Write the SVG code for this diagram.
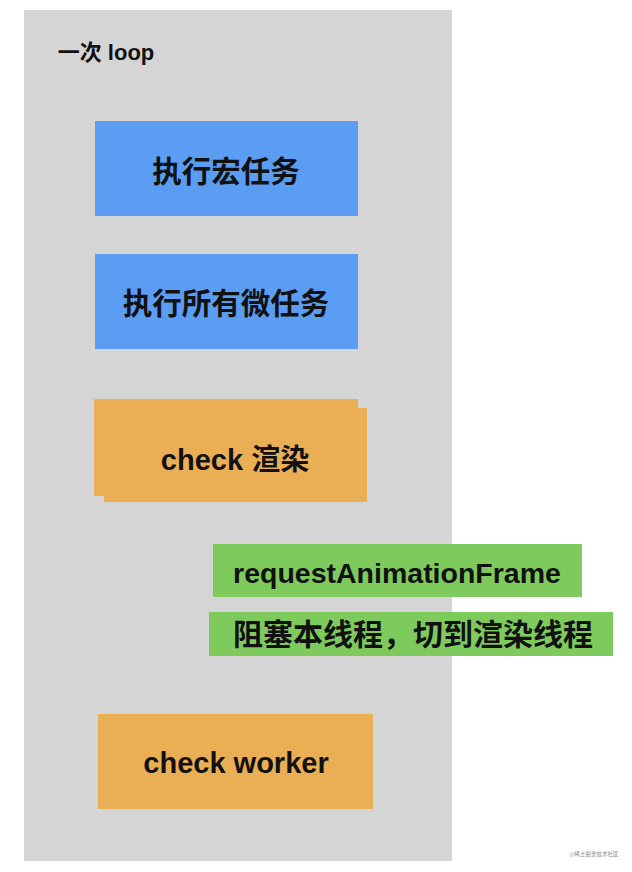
<svg xmlns="http://www.w3.org/2000/svg" width="632" height="872" viewBox="0 0 632 872">
  <style>
    .t { font-family: "Liberation Sans", "Noto Sans CJK SC", sans-serif; font-weight: bold; fill: #111111; text-anchor: middle; }
    .blue { fill: #5a9df2; }
    .orange { fill: #eaae54; }
    .green { fill: #7eca5d; }
  </style>
  <rect x="0" y="0" width="632" height="872" fill="#ffffff"/>
  <g id="loop">
    <rect x="24" y="10" width="428" height="851" fill="#d5d5d5"/>
    <text class="t" x="106" y="60" font-size="22">一次 loop</text>
  </g>
  <g id="macrotask">
    <rect class="blue" x="95" y="121" width="263" height="95"/>
    <text class="t" x="226" y="182" font-size="29.5">执行宏任务</text>
  </g>
  <g id="microtasks">
    <rect class="blue" x="95" y="254" width="263" height="95"/>
    <text class="t" x="226" y="314" font-size="29.5">执行所有微任务</text>
  </g>
  <g id="check-render">
    <rect class="orange" x="104" y="408" width="263" height="94"/>
    <rect class="orange" x="94" y="399" width="264" height="97"/>
    <text class="t" x="235" y="470" font-size="29">check 渲染</text>
  </g>
  <g id="raf">
    <rect class="green" x="213" y="544" width="369" height="53"/>
    <text class="t" x="397" y="583" font-size="28.5">requestAnimationFrame</text>
  </g>
  <g id="block">
    <rect class="green" x="209" y="612" width="404" height="44"/>
    <text class="t" x="413" y="645" font-size="30">阻塞本线程，切到渲染线程</text>
  </g>
  <g id="check-worker">
    <rect class="orange" x="98" y="714" width="275" height="95"/>
    <text class="t" x="236" y="773" font-size="29">check worker</text>
  </g>
  <g id="watermark">
    <text x="594" y="856" font-family="'Noto Sans CJK SC', sans-serif" font-size="5.5" fill="#8a8a8a" text-anchor="middle">@稀土掘金技术社区</text>
  </g>
</svg>
